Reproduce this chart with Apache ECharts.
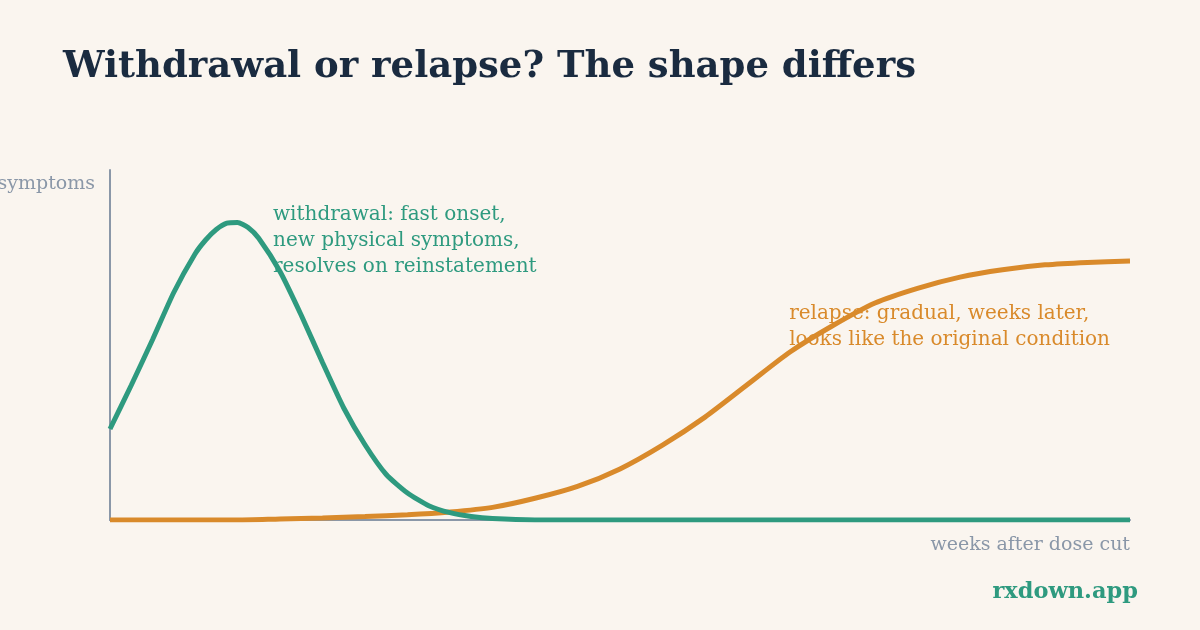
<!DOCTYPE html>
<html>
<head>
<meta charset="utf-8">
<script src="https://cdn.jsdelivr.net/npm/echarts@6/dist/echarts.min.js"></script>
<style>
  html, body { margin: 0; padding: 0; background: #faf5ef; }
  #chart { width: 1200px; height: 630px; }
</style>
</head>
<body>
<div id="chart"></div>
<script>
// weeks after the dose cut, and symptom level (0-100) for each curve
const withdrawalWeeks = [0, 0.5, 1, 1.5, 2, 2.25, 2.5, 2.75, 3, 3.25, 3.5, 4, 4.5, 5, 5.5, 6, 6.5, 7, 7.5, 8, 8.5, 9, 10, 12, 16, 20, 24];
const withdrawalLevel = [26, 38.5, 51.5, 65, 76, 80, 83, 84.8, 85, 83.6, 80.5, 71, 58.5, 45, 32, 21.5, 13, 7.7, 4.1, 2.1, 1, 0.4, 0, 0, 0, 0, 0];

const relapseWeeks = [0, 3, 4, 5, 6, 7, 8, 9, 10, 11, 12, 13, 14, 15, 16, 17, 18, 19, 20, 21, 22, 23, 24];
const relapseLevel = [0, 0, 0.3, 0.6, 1, 1.5, 2.3, 3.6, 6.2, 9.6, 14.6, 21.4, 29.4, 38.7, 48, 55.5, 62, 66.2, 69.4, 71.5, 72.9, 73.6, 74];

const TEAL = "#2e9a7f";
const ORANGE = "#d98a2b";
const GREY = "#8a97a8";
const FONT = "'DejaVu Serif', 'Liberation Serif', serif";

const toPairs = (xs, ys) => xs.map((x, i) => [x, ys[i]]);

const chart = echarts.init(document.getElementById("chart"));

const option = {
  backgroundColor: "#faf5ef",
  animation: false,
  title: {
    text: "Withdrawal or relapse? The shape differs",
    left: 58,
    top: 44,
    textStyle: {
      fontFamily: FONT,
      fontWeight: "bold",
      fontSize: 37,
      color: "#1a2b40",
    },
  },
  grid: {
    left: 110,
    right: 70,
    top: 170,
    bottom: 110,
    outerBoundsMode: "none",
    containLabel: false,
  },
  xAxis: {
    type: "value",
    min: 0,
    max: 24,
    name: "weeks after dose cut",
    nameLocation: "end",
    nameGap: 0,
    nameTextStyle: {
      fontFamily: FONT,
      fontSize: 19,
      color: GREY,
      align: "right",
      verticalAlign: "top",
      padding: [16, 0, 0, 0],
    },
    axisLine: { show: true, lineStyle: { color: GREY, width: 2 } },
    axisTick: { show: false },
    axisLabel: { show: false },
    splitLine: { show: false },
  },
  yAxis: {
    type: "value",
    min: 0,
    max: 100,
    name: "symptoms",
    nameLocation: "end",
    nameGap: 0,
    nameTextStyle: {
      fontFamily: FONT,
      fontSize: 19,
      color: GREY,
      align: "right",
      verticalAlign: "top",
      padding: [5, 15, 0, 0],
    },
    axisLine: { show: true, lineStyle: { color: GREY, width: 2 } },
    axisTick: { show: false },
    axisLabel: { show: false },
    splitLine: { show: false },
  },
  graphic: [
    {
      type: "text",
      left: 273,
      top: 202,
      z: 0,
      style: {
        text: "withdrawal: fast onset,\nnew physical symptoms,\nresolves on reinstatement",
        fontFamily: FONT,
        fontSize: 20,
        lineHeight: 26,
        fill: TEAL,
      },
    },
    {
      type: "text",
      right: 90,
      top: 301,
      z: 0,
      style: {
        text: "relapse: gradual, weeks later,\nlooks like the original condition",
        fontFamily: FONT,
        fontSize: 20,
        lineHeight: 26,
        fill: ORANGE,
        align: "right",
      },
    },
    {
      type: "text",
      right: 62,
      top: 581,
      style: {
        text: "rxdown.app",
        fontFamily: FONT,
        fontWeight: "bold",
        fontSize: 22.5,
        fill: TEAL,
      },
    },
  ],
  series: [
    {
      name: "relapse",
      type: "line",
      data: toPairs(relapseWeeks, relapseLevel),
      smooth: 0.25,
      symbol: "none",
      lineStyle: { color: ORANGE, width: 5 },
      z: 3,
    },
    {
      name: "withdrawal",
      type: "line",
      data: toPairs(withdrawalWeeks, withdrawalLevel),
      smooth: 0.2,
      symbol: "none",
      lineStyle: { color: TEAL, width: 5 },
      z: 4,
    },
  ],
};

chart.setOption(option);
window.addEventListener("resize", () => chart.resize());
</script>
</body>
</html>
